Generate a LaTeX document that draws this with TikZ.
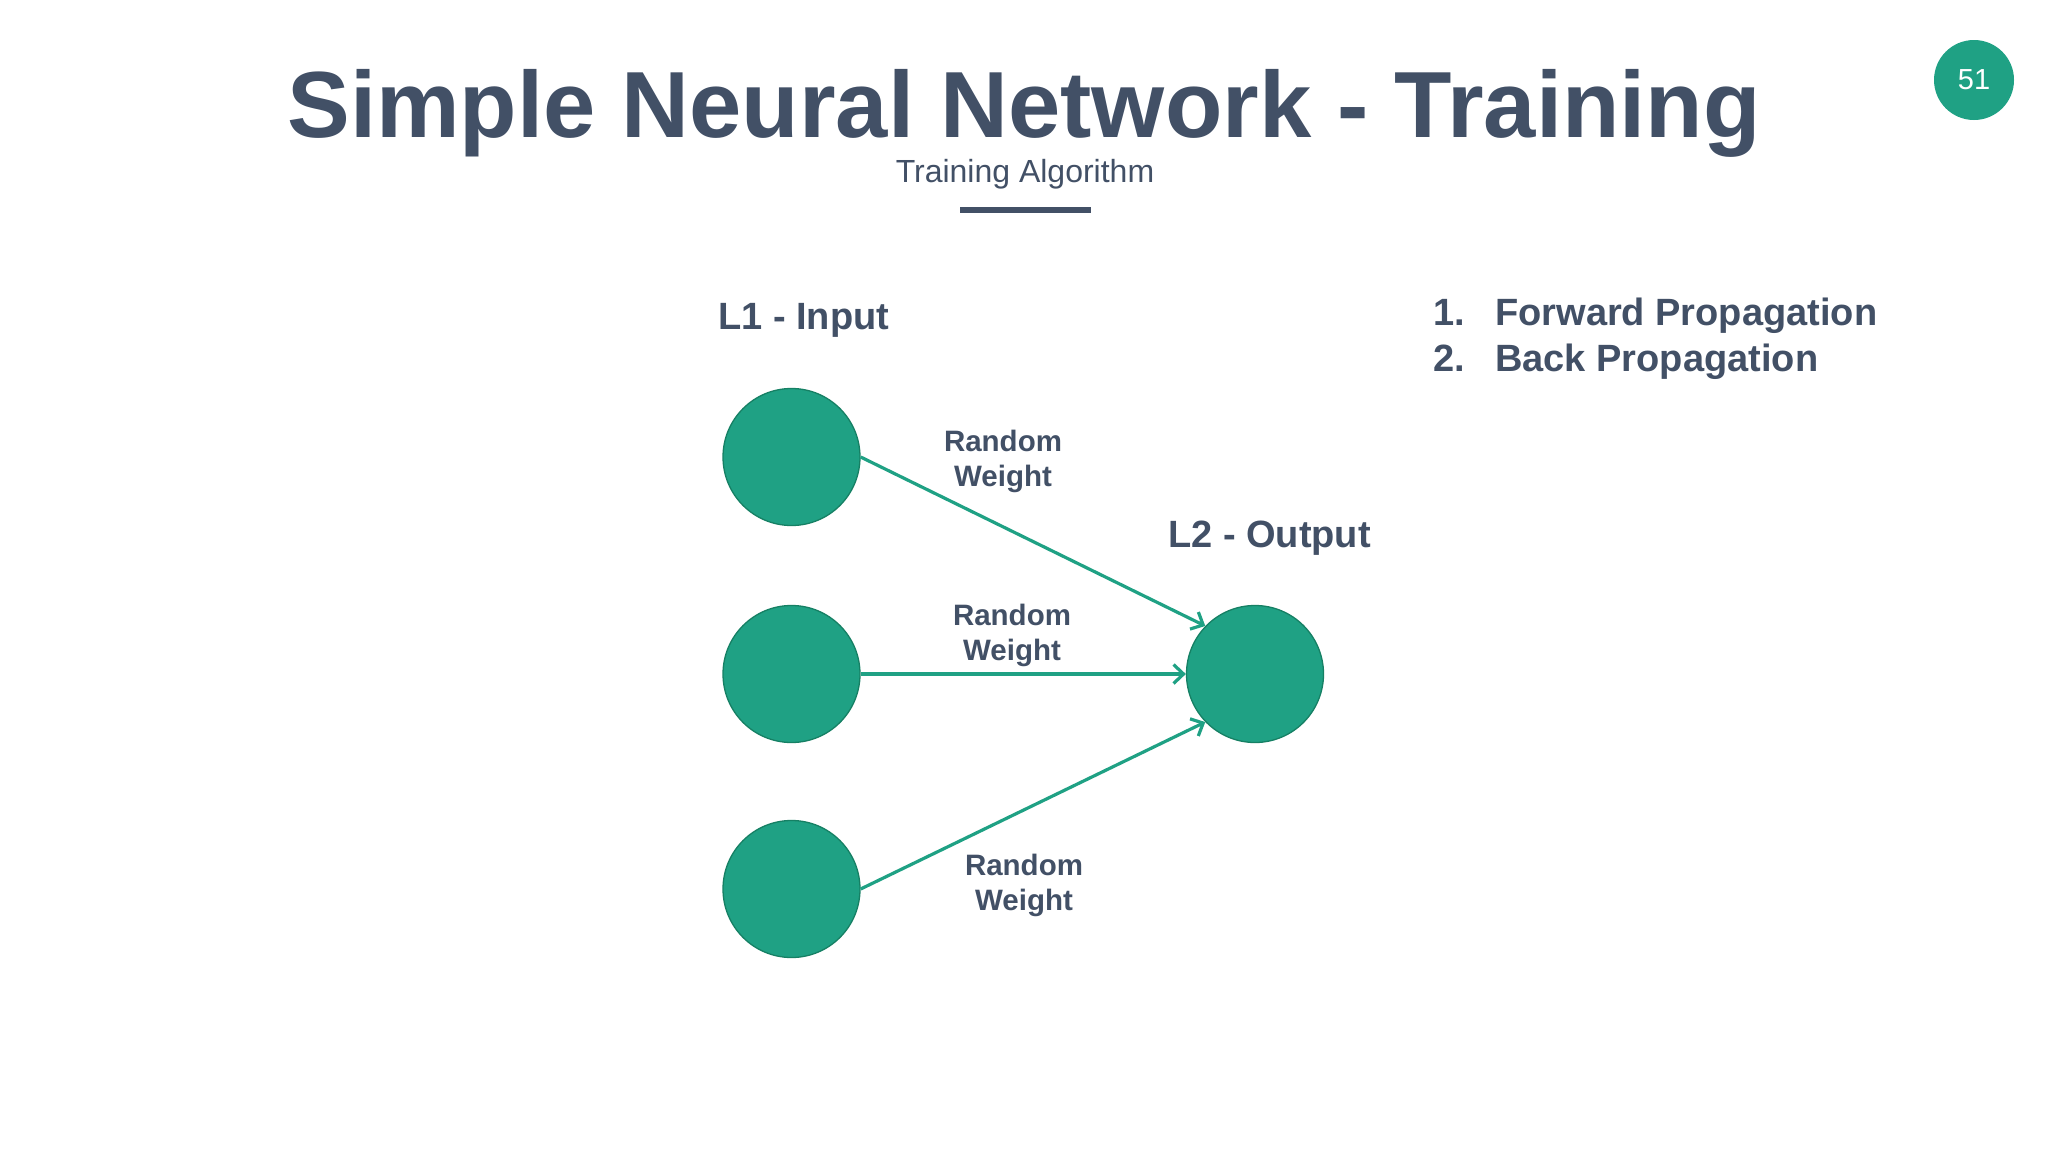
\documentclass[tikz,border=0pt]{standalone}
\usepackage{fontspec}
\setmainfont{Liberation Sans}
\usetikzlibrary{arrows.meta}
\definecolor{slate}{RGB}{66,80,102}
\definecolor{nnteal}{RGB}{31,161,132}
\definecolor{nnedge}{RGB}{22,128,100}
\tikzset{
  neuron/.style={circle, fill=nnteal, draw=nnedge, line width=1.3pt, minimum size=137pt, inner sep=0pt},
  wlabel/.style={font=\fontsize{29.5}{35}\selectfont\bfseries, text=slate, align=center, inner sep=0pt},
  layerlabel/.style={font=\fontsize{38}{44}\selectfont\bfseries, text=slate, anchor=base west, inner sep=0pt},
  conn/.style={draw=nnteal, line width=3.2pt, -{Straight Barb[length=10pt,width=19pt]}}
}
\begin{document}
\begin{tikzpicture}[x=1pt,y=-1pt]
\fill[white] (0,0) rectangle (2048,1152);
\useasboundingbox (0,0) rectangle (2048,1152);

% title block
\node[anchor=base, inner sep=0pt, font=\fontsize{94}{110}\selectfont\bfseries, text=slate] (title) at (1024,137) {Simple Neural Network - Training};
\node[anchor=base, inner sep=0pt, font=\fontsize{32}{38}\selectfont, text=slate] (subtitle) at (1025,182) {Training Algorithm};
\coordinate (barL) at (960,210);
\coordinate (barR) at (1091,210);
\draw[slate, line width=6pt] (barL) -- (barR);

% page badge
\node[circle, fill=nnteal, minimum size=80pt, inner sep=0pt, text=white, font=\fontsize{29}{33}\selectfont] (page) at (1974,80) {51};

% layer labels
\node[layerlabel] (l1) at (718,329) {L1 - Input};
\node[layerlabel] (l2) at (1168,547) {L2 - Output};

% list
\node[layerlabel] (n1) at (1433,325) {1.};
\node[layerlabel] (t1) at (1495,325) {Forward Propagation};
\node[layerlabel] (n2) at (1433,371) {2.};
\node[layerlabel] (t2) at (1495,371) {Back Propagation};

% neurons
\node[neuron] (i1) at (791.5,457) {};
\node[neuron] (i2) at (791.5,674) {};
\node[neuron] (i3) at (791.5,889) {};
\node[neuron] (o) at (1255,674) {};

% connectors
\draw[conn] (i1.east) -- (o.136);
\draw[conn] (i2.east) -- (o.west);
\draw[conn] (i3.east) -- (o.224);

% weight labels
\node[wlabel] (w1) at (1003,461) {Random\\Weight};
\node[wlabel] (w2) at (1012,635) {Random\\Weight};
\node[wlabel] (w3) at (1024,885) {Random\\Weight};
\end{tikzpicture}
\end{document}
